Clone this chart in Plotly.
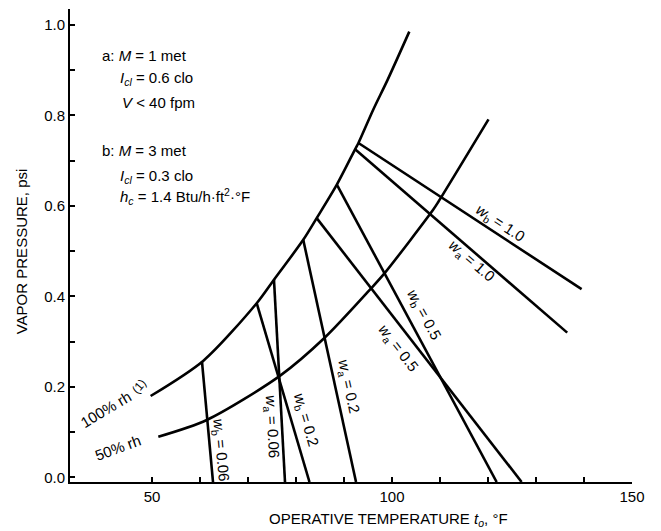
import plotly.graph_objects as go

# ---------------- data ----------------
rh100_t = [49.7, 60.7, 71.8, 75.4, 81.5, 84.3, 88.5, 92.3, 93.0, 96.1, 99.1, 103.6]
rh100_p = [0.180, 0.258, 0.385, 0.437, 0.525, 0.573, 0.647, 0.725, 0.739, 0.813, 0.879, 0.985]

rh50_t = [51.3, 61.4, 76.7, 85.9, 95.4, 98.5, 108.6, 109.6, 120.1]
rh50_p = [0.090, 0.127, 0.225, 0.308, 0.415, 0.452, 0.592, 0.608, 0.791]

# wettedness lines (straight segments): top point and bottom point
w_names = ["wb_0.06", "wa_0.06", "wb_0.2", "wa_0.2", "wb_0.5", "wa_0.5", "wb_1.0", "wa_1.0"]
w_top_t = [60.4, 75.4, 71.8, 81.5, 88.5, 84.3, 93.0, 92.3]
w_top_p = [0.256, 0.437, 0.385, 0.525, 0.647, 0.573, 0.739, 0.725]
w_end_t = [62.7, 77.7, 82.8, 92.5, 121.8, 127.0, 139.5, 136.5]
w_end_p = [-0.01, -0.01, -0.01, -0.01, -0.01, -0.01, 0.416, 0.320]

w_label_text = ["<i>w</i><sub>b</sub> = 0.06", "<i>w</i><sub>a</sub> = 0.06",
                "<i>w</i><sub>b</sub> = 0.2", "<i>w</i><sub>a</sub> = 0.2",
                "<i>w</i><sub>b</sub> = 0.5", "<i>w</i><sub>a</sub> = 0.5",
                "<i>w</i><sub>b</sub> = 1.0", "<i>w</i><sub>a</sub> = 1.0"]

x_tickvals = [50, 60, 70, 80, 90, 100, 110, 120, 130, 140, 150]
x_ticktext = ["50", "", "", "", "", "100", "", "", "", "", "150"]
y_tickvals = [0.0, 0.1, 0.2, 0.3, 0.4, 0.5, 0.6, 0.7, 0.8, 0.9, 1.0]
y_ticktext = ["0.0", "", "0.2", "", "0.4", "", "0.6", "", "0.8", "", "1.0"]

legend_lines = ["a: <i>M</i> = 1 met",
                "<i>I<sub>cl</sub></i> = 0.6 clo",
                "<i>V</i> &lt; 40 fpm",
                "b: <i>M</i> = 3 met",
                "<i>I<sub>cl</sub></i> = 0.3 clo",
                "<i>h<sub>c</sub></i> = 1.4 Btu/h·ft<sup>2</sup>·°F"]

# ---------------- layout / style ----------------
FONT = "Liberation Sans, Arial, sans-serif"
FS = 15
LW = 2.6

# label placement (data coords) and rotation
w_label_pos_t = [64.2, 74.9, 81.9, 90.9, 106.5, 101.3, 122.5, 116.6]
w_label_pos_p = [0.061, 0.112, 0.127, 0.201, 0.359, 0.286, 0.562, 0.477]
w_label_ang = [84.8, 86.9, 73.8, 77.7, 61.6, 52.4, 33.5, 40.8]

legend_pos_t = [39.2, 42.9, 43.3, 39.2, 42.9, 42.9]
legend_pos_p = [0.932, 0.881, 0.829, 0.722, 0.665, 0.621]

fig = go.Figure()

line_style = dict(color="black", width=LW)
fig.add_trace(go.Scatter(x=rh100_t, y=rh100_p, mode="lines",
                         line=dict(color="black", width=LW, shape="spline", smoothing=0.8),
                         hoverinfo="skip"))
fig.add_trace(go.Scatter(x=rh50_t, y=rh50_p, mode="lines",
                         line=dict(color="black", width=LW, shape="spline", smoothing=0.8),
                         hoverinfo="skip"))
for i, nm in enumerate(w_names):
    fig.add_trace(go.Scatter(x=[w_top_t[i], w_end_t[i]], y=[w_top_p[i], w_end_p[i]],
                             mode="lines", line=line_style, name=nm, hoverinfo="skip"))

annotations = []
for i, txt in enumerate(w_label_text):
    annotations.append(dict(x=w_label_pos_t[i], y=w_label_pos_p[i], xref="x", yref="y",
                            text=txt, textangle=w_label_ang[i], showarrow=False,
                            font=dict(family=FONT, size=FS, color="black")))
for i, txt in enumerate(legend_lines):
    annotations.append(dict(x=legend_pos_t[i], y=legend_pos_p[i], xref="x", yref="y",
                            text=txt, showarrow=False, xanchor="left", yanchor="middle",
                            font=dict(family=FONT, size=FS, color="black")))
annotations.append(dict(x=40.3, y=0.150, xref="x", yref="y",
                        text="100% rh", textangle=-31, showarrow=False,
                        font=dict(family=FONT, size=FS, color="black")))
annotations.append(dict(x=47.4, y=0.201, xref="x", yref="y",
                        text="(1)", textangle=-50, showarrow=False,
                        font=dict(family=FONT, size=12, color="black")))
annotations.append(dict(x=43.0, y=0.067, xref="x", yref="y",
                        text="50% rh", textangle=-20, showarrow=False,
                        font=dict(family=FONT, size=FS, color="black")))
annotations.append(dict(x=0.566, y=-0.080, xref="paper", yref="paper",
                        text="OPERATIVE TEMPERATURE <i>t<sub>o</sub></i>, °F",
                        showarrow=False, xanchor="center", yanchor="middle",
                        font=dict(family=FONT, size=FS, color="black")))
annotations.append(dict(x=-0.087, y=0.488, xref="paper", yref="paper",
                        text="VAPOR PRESSURE, psi", textangle=-90,
                        showarrow=False, xanchor="center", yanchor="middle",
                        font=dict(family=FONT, size=FS, color="black")))

fig.update_layout(
    width=661, height=531,
    margin=dict(l=70, r=29, t=9, b=49),
    paper_bgcolor="white", plot_bgcolor="white",
    showlegend=False,
    font=dict(family=FONT, size=FS, color="black"),
    annotations=annotations,
    xaxis=dict(range=[32.9, 150], showgrid=False, zeroline=False,
               showline=True, linecolor="black", linewidth=2,
               ticks="inside", ticklen=5, tickwidth=1.5, tickcolor="black",
               tickmode="array", tickvals=x_tickvals, ticktext=x_ticktext,
               tickfont=dict(family=FONT, size=FS, color="black")),
    yaxis=dict(range=[-0.01, 1.035], showgrid=False, zeroline=False,
               showline=True, linecolor="black", linewidth=2,
               ticks="inside", ticklen=5, tickwidth=1.5, tickcolor="black",
               tickmode="array", tickvals=y_tickvals, ticktext=y_ticktext,
               tickfont=dict(family=FONT, size=FS, color="black")),
)

fig.write_html("out.html")
